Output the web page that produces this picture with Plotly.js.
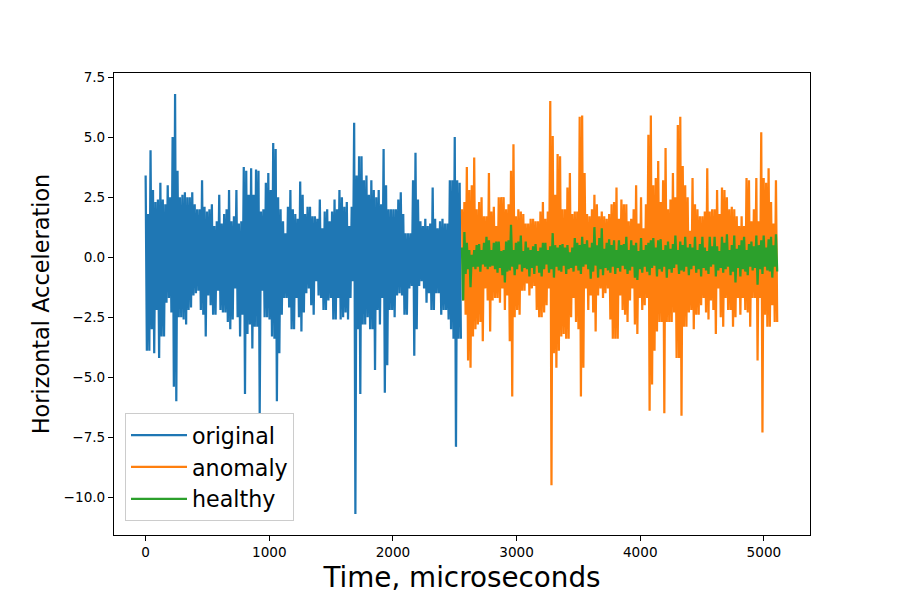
<!DOCTYPE html>
<html><head><meta charset="utf-8">
<script src="https://cdn.plot.ly/plotly-3.0.1.min.js"></script>
<style>html,body{margin:0;padding:0;background:#fff}</style>
</head><body><div id="chart" style="width:900px;height:600px"></div>
<script>
const seriesNames = ["original","anomaly","healthy"];
const seriesColors = ["#1f77b4","#ff7f0e","#2ca02c"];
const xTickValues = [0,1000,2000,3000,4000,5000];
const yTickValues = [-10,-7.5,-5,-2.5,0,2.5,5,7.5];
const yTickLabels = ["−10.0","−7.5","−5.0","−2.5","0.0","2.5","5.0","7.5"];
const originalStart = 0, laterStart = 2558, sampleStep = 9.92;

const originalHigh = [3.4,1.8,4.45,2.8,2.3,2.4,3.1,2.4,2.2,3.0,2.5,5.0,6.8,3.6,2.5,2.6,2.7,2.5,2.5,2.7,2.2,2.0,2.0,3.2,2.1,1.9,2.0,2.2,1.3,1.5,2.6,1.4,1.8,2.0,2.8,1.5,1.7,2.8,1.4,1.5,3.75,3.6,2.6,3.7,2.6,3.65,3.6,1.9,2.0,3.1,3.5,2.8,4.75,4.5,2.5,2.0,1.5,1.0,2.1,2.8,2.0,1.8,1.6,3.15,2.6,1.8,2.1,2.1,1.7,1.7,1.6,2.4,1.2,1.9,2.0,1.5,1.9,2.4,2.0,2.8,2.5,2.1,2.3,1.3,2.1,5.6,3.4,4.2,4.2,3.2,3.4,2.6,3.2,2.8,2.5,2.8,2.2,4.5,3.0,2.0,2.0,2.0,2.0,2.4,2.7,1.8,1.0,1.0,1.0,3.2,4.35,2.4,1.5,1.3,1.6,1.3,1.4,2.9,1.6,1.2,1.5,1.6,1.4,1.4,3.2,3.2,5.0,3.2,3.1];
const originalLow = [-3.9,-3.9,-3.0,-4.0,-2.2,-4.2,-3.3,-3.3,-1.9,-1.7,-2.3,-5.4,-6.0,-2.5,-2.5,-2.6,-2.8,-2.2,-2.1,-1.6,-1.5,-1.4,-2.2,-2.4,-3.3,-1.6,-2.0,-2.4,-2.4,-1.4,-2.2,-2.3,-2.3,-2.7,-3.0,-2.6,-1.3,-2.5,-3.3,-2.4,-5.7,-3.2,-2.8,-3.8,-2.9,-2.9,-6.5,-1.4,-2.5,-2.5,-2.6,-3.3,-3.4,-6.0,-4.0,-2.4,-1.7,-1.7,-2.1,-3.0,-3.0,-1.7,-2.5,-3.1,-2.3,-1.5,-1.3,-2.0,-2.4,-1.0,-1.6,-1.7,-2.2,-2.2,-1.8,-1.7,-2.6,-2.6,-1.7,-2.6,-2.5,-2.3,-2.6,-1.7,-1.0,-10.7,-3.0,-5.7,-2.8,-2.8,-2.5,-3.0,-3.0,-4.7,-2.2,-2.8,-1.7,-5.65,-4.5,-2.2,-2.2,-2.5,-1.6,-1.5,-1.6,-2.4,-2.4,-1.3,-1.2,-4.1,-3.0,-1.2,-1.0,-1.3,-1.9,-1.5,-2.2,-2.2,-1.5,-1.5,-2.4,-2.2,-2.2,-2.6,-3.0,-3.4,-7.9,-3.4,-3.4];

const anomalyHigh = [2.0,2.3,3.75,2.8,3.0,4.15,2.0,2.3,2.5,1.7,1.7,3.5,1.9,2.1,1.3,2.5,2.5,2.5,2.0,2.2,3.6,4.7,1.7,2.0,1.9,1.8,1.4,1.4,1.6,1.6,1.5,1.5,1.9,2.3,1.6,1.9,6.5,5.05,2.6,4.3,4.2,2.0,2.0,2.9,3.5,1.8,1.9,1.9,5.85,5.9,3.5,1.8,1.7,2.0,2.6,2.2,1.7,1.9,1.7,1.6,1.8,2.2,2.3,2.9,1.6,2.4,2.2,2.2,1.5,1.6,2.0,3.0,1.4,2.5,1.2,2.2,5.1,5.9,3.0,3.3,4.0,2.3,3.2,4.55,2.0,2.4,3.5,2.5,5.5,5.85,3.8,3.0,2.5,1.1,3.3,2.2,2.0,1.7,1.7,1.9,3.7,1.9,2.0,2.0,2.8,1.8,2.9,2.8,2.5,2.0,2.1,2.0,1.7,1.3,1.7,1.3,3.3,3.2,1.5,2.0,3.3,1.5,5.2,3.3,3.1,3.7,2.3,1.4,3.2];
const anomalyLow = [-1.8,-2.4,-4.3,-4.6,-3.3,-3.0,-2.8,-2.7,-3.5,-1.3,-1.8,-3.1,-1.8,-1.7,-1.7,-1.9,-1.3,-2.2,-1.6,-3.5,-5.8,-2.5,-2.2,-2.4,-1.4,-1.4,-1.1,-1.6,-1.3,-1.2,-2.2,-2.5,-2.5,-2.3,-2.0,-1.3,-9.5,-4.0,-4.6,-3.9,-3.3,-3.2,-3.4,-3.4,-2.5,-1.7,-2.7,-3.0,-5.8,-4.6,-1.3,-2.2,-1.6,-2.3,-3.1,-1.6,-1.3,-1.7,-1.5,-1.3,-2.6,-3.4,-3.4,-3.4,-1.6,-2.2,-2.4,-2.7,-1.8,-1.3,-2.8,-3.2,-1.7,-2.2,-2.0,-1.7,-6.4,-5.3,-3.9,-3.1,-2.7,-2.7,-6.5,-2.7,-2.7,-2.7,-2.3,-4.2,-4.2,-6.6,-2.9,-2.9,-2.3,-2.2,-3.0,-2.4,-2.4,-2.0,-1.7,-2.3,-2.6,-1.8,-2.2,-3.2,-1.3,-2.5,-2.9,-1.7,-2.2,-2.2,-2.9,-2.5,-1.7,-2.4,-1.7,-2.2,-2.3,-2.9,-1.7,-1.7,-4.3,-1.7,-7.3,-2.4,-2.9,-2.9,-2.0,-2.7,-2.7];

const healthyHigh = [0.4,1.05,0.6,0.3,0.1,0.3,0.5,0.55,0.3,0.6,0.85,0.7,0.3,0.6,0.65,0.65,0.25,0.3,0.65,0.7,1.35,0.3,0.6,0.65,0.9,0.25,0.65,0.4,0.3,0.45,0.55,0.25,0.4,0.6,0.6,0.3,0.45,1.0,0.5,0.4,0.5,0.55,0.4,0.5,0.2,0.4,0.8,0.6,0.5,0.85,0.55,0.7,0.4,0.6,1.25,0.5,0.8,1.2,0.35,0.6,0.75,0.5,0.7,0.3,0.7,0.5,0.55,0.85,0.3,0.7,0.5,0.6,0.25,0.8,0.3,0.5,0.6,0.7,0.8,0.4,0.7,0.75,0.3,0.5,0.65,0.35,0.55,0.9,0.3,0.65,0.5,0.85,0.4,0.55,0.4,0.85,0.3,0.55,0.85,0.4,0.25,0.85,0.45,0.85,0.45,0.25,0.85,0.6,0.95,0.3,0.5,0.9,0.35,0.5,0.7,0.85,0.3,0.55,0.65,0.45,0.9,0.5,0.7,0.9,0.4,0.75,0.85,0.5,0.95];
const healthyLow = [-1.8,-0.7,-0.5,-1.25,-0.4,-0.5,-0.4,-0.6,-0.3,-0.4,-0.5,-0.4,-0.35,-0.5,-0.65,-0.45,-0.75,-1.05,-0.6,-0.55,-0.4,-0.75,-0.5,-0.3,-0.6,-0.45,-0.5,-0.8,-0.45,-0.7,-0.35,-0.65,-0.8,-0.5,-0.3,-0.65,-0.5,-0.85,-0.4,-0.55,-0.6,-0.35,-0.7,-0.5,-0.45,-0.6,-0.35,-0.55,-0.7,-0.4,-0.3,-0.5,-0.9,-0.6,-0.35,-0.85,-0.5,-0.75,-0.45,-0.55,-0.65,-0.4,-0.7,-0.45,-0.6,-0.35,-0.5,-0.7,-0.55,-0.4,-0.85,-0.95,-0.5,-0.65,-0.4,-0.6,-0.75,-0.45,-0.35,-0.8,-0.5,-0.6,-0.4,-0.85,-0.5,-0.65,-0.45,-0.3,-0.7,-0.55,-0.6,-0.4,-0.75,-0.5,-0.35,-0.65,-0.5,-0.8,-0.45,-0.55,-0.7,-0.4,-0.3,-0.8,-0.55,-0.45,-0.65,-0.5,-0.4,-0.75,-0.6,-1.05,-0.45,-0.8,-0.5,-0.6,-0.75,-0.4,-0.55,-0.45,-1.15,-0.5,-0.7,-0.4,-0.55,-0.6,-0.85,-0.4,-0.6];

function weave(high, low, start) {
  const x = [], y = [];
  high.forEach((h, i) => {
    x.push(start + 2 * i * sampleStep, start + (2 * i + 1) * sampleStep);
    y.push(h, low[Math.min(i, low.length - 1)]);
  });
  return {x, y};
}
const a = weave(originalHigh, originalLow, originalStart);
const b = weave(anomalyHigh, anomalyLow, laterStart);
const c = weave(healthyHigh, healthyLow, laterStart);
const traces = [a, b, c].map((d, i) => ({
  x: d.x, y: d.y, type: "scatter", mode: "lines", name: seriesNames[i],
  line: {color: seriesColors[i], width: 2.25, simplify: false}
}));
const font = "DejaVu Sans, sans-serif";
Plotly.newPlot("chart", traces, {
  width: 900, height: 600, paper_bgcolor: "#fff", plot_bgcolor: "#fff",
  margin: {l: 113.5, r: 90, t: 72.5, b: 65, pad: 0},
  font: {family: font, color: "#000", size: 13.6},
  showlegend: true,
  legend: {x: 0.0158, y: 0.03, xanchor: "left", yanchor: "bottom",
    bgcolor: "rgba(255,255,255,0.8)", bordercolor: "#ccc", borderwidth: 1,
    font: {size: 22.2, family: font}, itemwidth: 56, entrywidth: 100, entrywidthmode: "pixels"},
  xaxis: {range: [-255.85, 5372.85], tickmode: "array", tickvals: xTickValues,
    ticks: "outside", ticklen: 4.9, tickwidth: 1.1, tickcolor: "#000",
    showgrid: false, zeroline: false, showline: true, mirror: true, linecolor: "#000", linewidth: 1.1,
    tickfont: {size: 13.6}, title: {text: "Time, microseconds", font: {size: 27.8}, standoff: 8}},
  yaxis: {range: [-11.57, 7.67], tickmode: "array", tickvals: yTickValues, ticktext: yTickLabels,
    ticks: "outside", ticklen: 4.9, tickwidth: 1.1, tickcolor: "#000",
    showgrid: false, zeroline: false, showline: true, mirror: true, linecolor: "#000", linewidth: 1.1,
    tickfont: {size: 13.6}, title: {text: "Horizontal Acceleration", font: {size: 22.4}, standoff: 7}}
}, {displayModeBar: false, staticPlot: true});
</script></body></html>
